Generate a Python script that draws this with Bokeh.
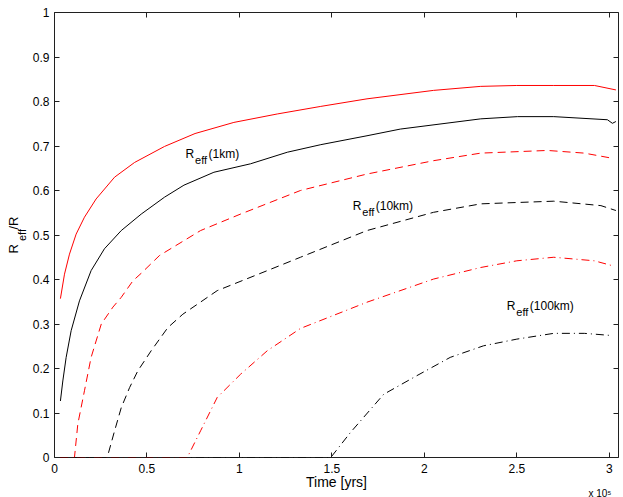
import math
from bokeh.plotting import figure
from bokeh.models import Range1d, LinearAxis, FixedTicker, Label, CustomJSTickFormatter, Title
from bokeh.embed import file_html
from bokeh.resources import INLINE

# ---- data (time in units of 1e5 years) ----
t_r1 = [0.032, 0.054, 0.081, 0.117, 0.162, 0.225, 0.325, 0.433, 0.595, 0.76, 0.97, 1.205, 1.44, 1.69, 2.05, 2.305, 2.50, 2.70, 2.92, 3.036]
y_r1 = [0.357, 0.412, 0.457, 0.502, 0.540, 0.581, 0.630, 0.663, 0.699, 0.728, 0.753, 0.772, 0.789, 0.806, 0.825, 0.834, 0.836, 0.836, 0.836, 0.826]

t_b1 = [0.032, 0.045, 0.063, 0.09, 0.135, 0.198, 0.27, 0.361, 0.469, 0.595, 0.70, 0.862, 1.06, 1.259, 1.44, 1.69, 1.87, 2.305, 2.504, 2.70, 2.99, 3.017, 3.036]
y_b1 = [0.127, 0.172, 0.225, 0.285, 0.352, 0.420, 0.469, 0.510, 0.547, 0.585, 0.612, 0.641, 0.660, 0.686, 0.703, 0.723, 0.738, 0.761, 0.766, 0.766, 0.759, 0.751, 0.755]

t_r10 = [0.03, 0.108, 0.126, 0.162, 0.198, 0.253, 0.316, 0.361, 0.424, 0.469, 0.568, 0.79, 1.006, 1.33, 1.69, 2.05, 2.305, 2.666, 2.865, 3.009]
y_r10 = [0.0, 0.0, 0.075, 0.150, 0.225, 0.300, 0.338, 0.360, 0.397, 0.414, 0.454, 0.510, 0.547, 0.600, 0.637, 0.667, 0.684, 0.690, 0.684, 0.673]

t_b10 = [0.03, 0.285, 0.325, 0.361, 0.406, 0.451, 0.523, 0.613, 0.694, 0.88, 1.151, 1.33, 1.69, 2.05, 2.305, 2.50, 2.70, 2.955, 3.036]
y_b10 = [0.0, 0.0, 0.060, 0.112, 0.157, 0.195, 0.240, 0.292, 0.322, 0.375, 0.420, 0.450, 0.510, 0.551, 0.570, 0.573, 0.576, 0.566, 0.555]

t_r100 = [0.03, 0.718, 0.79, 0.88, 1.006, 1.151, 1.33, 1.69, 2.05, 2.305, 2.50, 2.70, 2.92, 3.017]
y_r100 = [0.0, 0.0, 0.060, 0.135, 0.187, 0.240, 0.290, 0.349, 0.401, 0.427, 0.442, 0.450, 0.442, 0.431]

t_b100 = [0.03, 1.494, 1.60, 1.78, 1.96, 2.14, 2.32, 2.50, 2.70, 2.865, 3.017]
y_b100 = [0.0, 0.0, 0.056, 0.142, 0.184, 0.225, 0.251, 0.266, 0.279, 0.279, 0.274]

x_ticks = [0, 0.5, 1, 1.5, 2, 2.5, 3]
y_ticks = [0, 0.1, 0.2, 0.3, 0.4, 0.5, 0.6, 0.7, 0.8, 0.9, 1]

FONT = "Liberation Sans"
W, H = 623, 497
NB = "\u00a0"

p = figure(width=W, height=H, output_backend="svg", toolbar_location=None,
           x_range=Range1d(0, 3.05), y_range=Range1d(0, 1),
           x_axis_location=None, y_axis_location=None,
           min_border_left=54, min_border_right=5, min_border_top=12, min_border_bottom=40)
p.grid.visible = False
p.outline_line_color = "#202020"
p.outline_line_width = 1
p.background_fill_color = "white"
p.border_fill_color = "white"

fmt = CustomJSTickFormatter(code="return String(tick);")
blank = CustomJSTickFormatter(code="return '';")


def mk_axis(ticks, show, ticks_on=True):
    ax = LinearAxis(ticker=FixedTicker(ticks=ticks), formatter=fmt if show else blank)
    ax.axis_line_color = None
    ax.major_tick_in = 5 if ticks_on else 0
    ax.major_tick_out = 0
    ax.major_tick_line_color = "#202020" if ticks_on else None
    ax.minor_tick_line_color = None
    ax.minor_tick_in = 0
    ax.minor_tick_out = 0
    ax.major_label_text_font = FONT
    ax.major_label_text_color = "black"
    ax.major_label_text_font_size = "12px"
    ax.major_label_standoff = 5 if show else 0
    ax.axis_label_text_font = FONT
    ax.axis_label_text_font_style = "normal"
    ax.axis_label_text_color = "black"
    return ax


xb = mk_axis(x_ticks, True)
xb.major_label_standoff = 6
xb.axis_label = "Time [yrs]"
xb.axis_label_text_font_size = "14px"
xb.axis_label_standoff = -2
p.add_layout(xb, "below")

yl = mk_axis(y_ticks, True)
yl.axis_label = "eff"
yl.axis_label_text_font_size = "11px"
yl.axis_label_standoff = 2
p.add_layout(yl, "left")

yl2 = mk_axis(y_ticks, False, ticks_on=False)
yl2.axis_label = "R" + NB * 4 + "/R"
yl2.axis_label_text_font_size = "13px"
yl2.axis_label_standoff = -8
p.add_layout(yl2, "left")

p.add_layout(mk_axis(x_ticks, False), "above")
p.add_layout(mk_axis(y_ticks, False), "right")

p.add_layout(Title(text="x 10\u2075", align="right", vertical_align="top", offset=7, standoff=-10,
                   text_font=FONT, text_font_size="10px", text_font_style="normal",
                   text_color="black"), "below")

p.line(t_r1, y_r1, line_color="red", line_width=1)
p.line(t_b1, y_b1, line_color="black", line_width=1)
p.line(t_r10, y_r10, line_color="red", line_width=1, line_dash="8 5")
p.line(t_b10, y_b10, line_color="black", line_width=1, line_dash="8 5")
p.line(t_r100, y_r100, line_color="red", line_width=1, line_dash="8 4 1 4")
p.line(t_b100, y_b100, line_color="black", line_width=1, line_dash="8 4 1 4")


def lab(x, y, text, size, dx=0, dy=0):
    p.add_layout(Label(x=x, y=y, x_offset=dx, y_offset=dy, text=text,
                       text_font=FONT, text_font_size=size, text_color="black",
                       text_align="left", text_baseline="alphabetic"))


def reff(x, y, suffix):
    lab(x, y, "R", "12px")
    lab(x, y, "eff", "11px", dx=9.5, dy=-6)
    lab(x, y, suffix, "12px", dx=23)


reff(0.709, 0.681, "(1km)")
reff(1.613, 0.566, "(10km)")
reff(2.446, 0.341, "(100km)")

open("out.html", "w").write(file_html(p, INLINE))
